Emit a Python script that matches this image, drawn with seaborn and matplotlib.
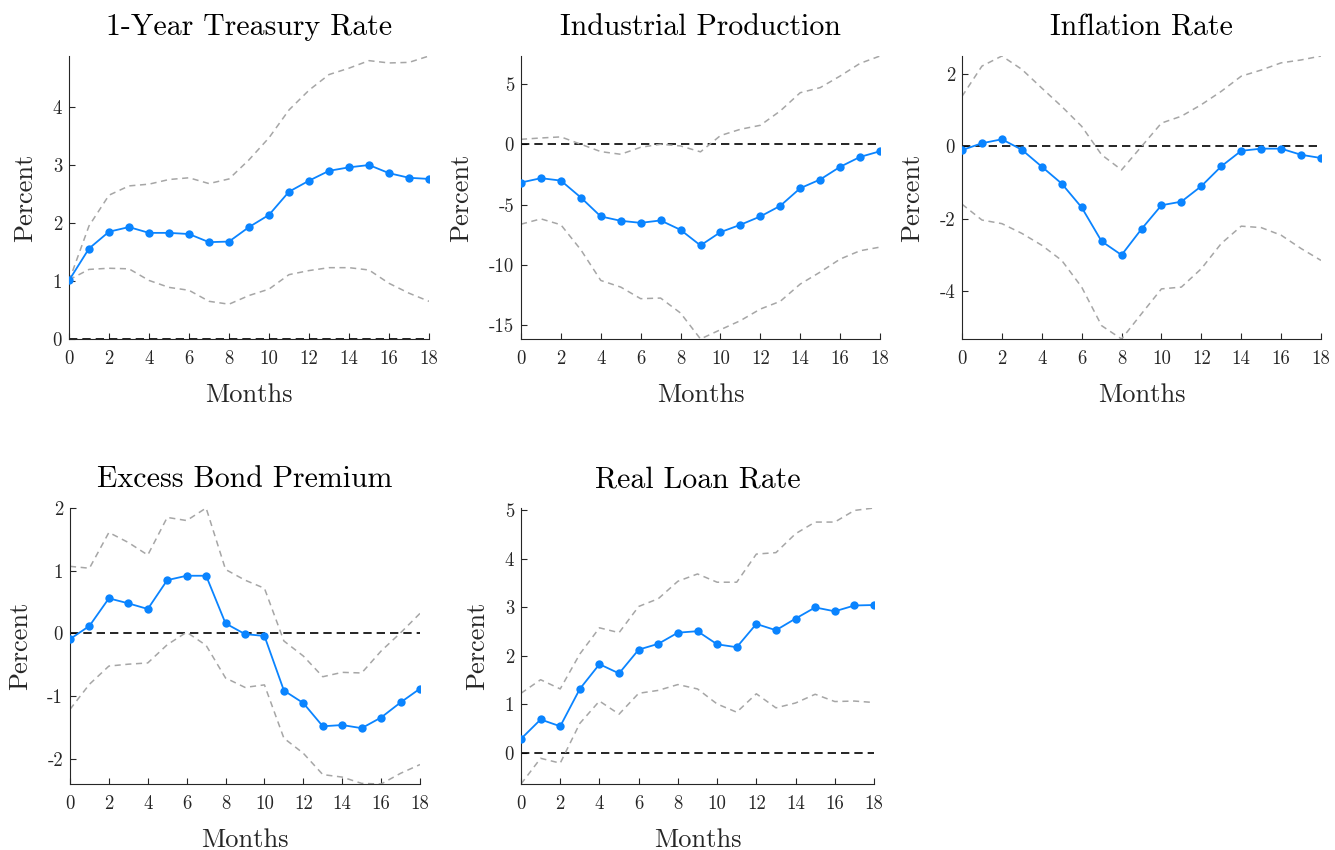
import numpy as np
import pandas as pd
import matplotlib
matplotlib.use("Agg")
import matplotlib.pyplot as plt
import seaborn as sns

# Impulse responses (percent) over an 18-month horizon, with confidence bands
months = list(range(19))

treasury_irf = [1.01, 1.56, 1.85, 1.93, 1.83, 1.83, 1.81, 1.67, 1.68, 1.93,
                2.14, 2.54, 2.73, 2.90, 2.96, 3.00, 2.86, 2.78, 2.76]
treasury_hi = [1.00, 1.95, 2.48, 2.64, 2.67, 2.75, 2.78, 2.68, 2.76, 3.09,
               3.47, 3.95, 4.29, 4.56, 4.67, 4.80, 4.76, 4.77, 4.88]
treasury_lo = [1.02, 1.20, 1.22, 1.21, 1.01, 0.89, 0.84, 0.65, 0.60, 0.75,
               0.86, 1.11, 1.18, 1.23, 1.23, 1.19, 0.96, 0.79, 0.65]

indprod_irf = [-3.17, -2.81, -3.01, -4.41, -5.98, -6.34, -6.51, -6.31, -7.09, -8.38,
               -7.28, -6.67, -5.98, -5.10, -3.64, -2.92, -1.87, -1.05, -0.58]
indprod_hi = [0.41, 0.52, 0.61, 0.00, -0.61, -0.83, -0.25, 0.00, -0.14, -0.63,
              0.72, 1.24, 1.57, 2.76, 4.27, 4.69, 5.65, 6.70, 7.31]
indprod_lo = [-6.62, -6.18, -6.67, -8.74, -11.28, -11.83, -12.79, -12.74, -13.98, -16.13,
              -15.36, -14.61, -13.65, -13.01, -11.58, -10.59, -9.51, -8.82, -8.52]

inflation_irf = [-0.10, 0.09, 0.20, -0.09, -0.56, -1.03, -1.69, -2.63, -3.01, -2.29,
                 -1.63, -1.53, -1.10, -0.55, -0.12, -0.06, -0.06, -0.23, -0.32]
inflation_hi = [1.39, 2.23, 2.51, 2.14, 1.62, 1.11, 0.56, -0.23, -0.65, 0.00,
                0.65, 0.84, 1.16, 1.53, 1.95, 2.12, 2.32, 2.40, 2.51]
inflation_lo = [-1.60, -2.04, -2.14, -2.41, -2.74, -3.16, -3.90, -4.97, -5.34, -4.64,
                -3.95, -3.90, -3.39, -2.69, -2.21, -2.25, -2.46, -2.83, -3.16]

ebp_irf = [-0.09, 0.12, 0.56, 0.48, 0.39, 0.85, 0.92, 0.92, 0.16, -0.01,
           -0.04, -0.91, -1.11, -1.48, -1.46, -1.51, -1.34, -1.10, -0.88]
ebp_hi = [1.07, 1.04, 1.61, 1.45, 1.25, 1.85, 1.80, 2.00, 1.02, 0.85,
          0.72, -0.12, -0.36, -0.69, -0.62, -0.63, -0.28, 0.01, 0.32]
ebp_lo = [-1.21, -0.81, -0.52, -0.49, -0.47, -0.18, 0.02, -0.19, -0.71, -0.86,
          -0.82, -1.67, -1.91, -2.25, -2.29, -2.39, -2.40, -2.23, -2.09]

loan_irf = [0.29, 0.69, 0.55, 1.32, 1.83, 1.64, 2.13, 2.25, 2.48, 2.51,
            2.24, 2.18, 2.66, 2.53, 2.77, 3.00, 2.92, 3.04, 3.05]
loan_hi = [1.23, 1.51, 1.32, 2.04, 2.58, 2.48, 3.02, 3.18, 3.54, 3.69,
           3.52, 3.52, 4.10, 4.13, 4.52, 4.76, 4.76, 5.00, 5.05]
loan_lo = [-0.64, -0.11, -0.21, 0.61, 1.07, 0.80, 1.23, 1.29, 1.41, 1.32,
           1.01, 0.84, 1.22, 0.93, 1.03, 1.21, 1.06, 1.07, 1.04]

titles = ["1-Year Treasury Rate", "Industrial Production", "Inflation Rate",
          "Excess Bond Premium", "Real Loan Rate"]
y_ticks = [[0, 1, 2, 3, 4], [-15, -10, -5, 0, 5], [-4, -2, 0, 2],
           [-2, -1, 0, 1, 2], [0, 1, 2, 3, 4, 5]]
x_ticks = list(range(0, 19, 2))

series = [
    (treasury_irf, treasury_hi, treasury_lo),
    (indprod_irf, indprod_hi, indprod_lo),
    (inflation_irf, inflation_hi, inflation_lo),
    (ebp_irf, ebp_hi, ebp_lo),
    (loan_irf, loan_hi, loan_lo),
]

sns.set_style("ticks")
plt.rcParams["font.family"] = ["cmr10", "DejaVu Serif"]
plt.rcParams["axes.unicode_minus"] = False
plt.rcParams["mathtext.fontset"] = "cm"

ink = "#262626"
blue = "#0a84ff"
band = "#a6a6a6"

W, H = 1335, 850
fig = plt.figure(figsize=(W / 100, H / 100), dpi=100)

# panel boxes in pixels: (left, top, right, bottom)
boxes = [(69, 56, 429, 339), (521, 56, 880, 339), (962, 56, 1321, 339),
         (70, 508, 420, 784), (521, 508, 874, 784)]

for (irf, hi, lo), title, yt, (l, t, r, b) in zip(series, titles, y_ticks, boxes):
    ax = fig.add_axes([l / W, 1 - b / H, (r - l) / W, (b - t) / H])
    df = pd.DataFrame({"month": months, "irf": irf, "hi": hi, "lo": lo})

    ax.axhline(0, color="black", lw=1.2, ls=(0, (5, 3)), zorder=1)
    sns.lineplot(data=df, x="month", y="hi", ax=ax, color=band, lw=1.1,
                 linestyle=(0, (4, 3)), zorder=2)
    sns.lineplot(data=df, x="month", y="lo", ax=ax, color=band, lw=1.1,
                 linestyle=(0, (4, 3)), zorder=2)
    sns.lineplot(data=df, x="month", y="irf", ax=ax, color=blue, lw=1.3,
                 marker="o", markersize=6, markeredgewidth=0, zorder=3)

    ymin = min(0, min(lo), min(irf))
    ymax = max(0, max(hi), max(irf))
    ax.set_xlim(0, 18)
    ax.set_ylim(ymin, ymax)
    ax.set_xticks(x_ticks)
    ax.set_yticks(yt)
    ax.tick_params(direction="in", length=4, width=0.8, colors=ink,
                   labelsize=13.5)
    ax.tick_params(axis="x", pad=8)
    ax.tick_params(axis="y", pad=5)
    for s in ("top", "right"):
        ax.spines[s].set_visible(False)
    for s in ("left", "bottom"):
        ax.spines[s].set_color(ink)
        ax.spines[s].set_linewidth(0.8)

    ax.set_title(title, fontsize=21.5, color="black", pad=15)
    ax.set_xlabel("Months", fontsize=19, color=ink, labelpad=11)
    ax.set_ylabel("Percent", fontsize=19, color=ink, labelpad=11)

fig.savefig("out.png", dpi=100)
